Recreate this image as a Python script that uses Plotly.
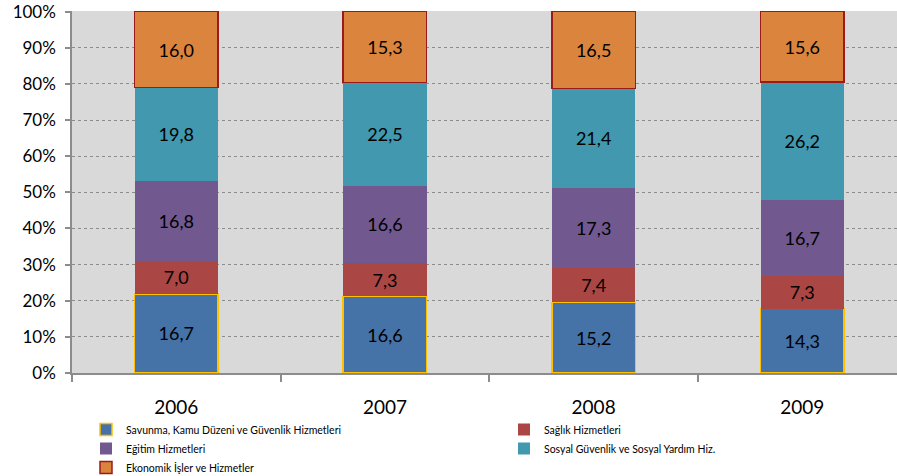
import plotly.graph_objects as go

years = ["2006", "2007", "2008", "2009"]
series_names = [
    "Savunma, Kamu Düzeni ve Güvenlik Hizmetleri",
    "Sağlık Hizmetleri",
    "Eğitim Hizmetleri",
    "Sosyal Güvenlik ve Sosyal Yardım Hiz.",
    "Ekonomik İşler ve Hizmetler",
]
savunma = [16.7, 16.6, 15.2, 14.3]
saglik = [7.0, 7.3, 7.4, 7.3]
egitim = [16.8, 16.6, 17.3, 16.7]
sosyal = [19.8, 22.5, 21.4, 26.2]
ekonomik = [16.0, 15.3, 16.5, 15.6]

series_values = [savunma, saglik, egitim, sosyal, ekonomik]
fill_colors = ["#4572A7", "#AA4643", "#71588F", "#4198AF", "#DB843D"]
edge_colors = ["#FFC000", None, None, None, "#9B1B1B"]
# two legend columns: left column and right column
legend_ids = ["legend", "legend2", "legend", "legend2", "legend"]

FONT = "Lato, sans-serif"

fig = go.Figure()
for name, vals, fc, ec, lg in zip(series_names, series_values, fill_colors,
                                  edge_colors, legend_ids):
    line = dict(color=ec, width=1.5) if ec else dict(width=0)
    fig.add_trace(go.Bar(
        x=years,
        y=vals,
        name=name,
        legend=lg,
        width=0.4,
        marker=dict(color=fc, line=line),
        text=[f"{v:.1f}".replace(".", ",") for v in vals],
        textposition="inside",
        insidetextanchor="middle",
        textangle=0,
        constraintext="none",
        textfont=dict(family=FONT, size=18, color="#000000"),
        hoverinfo="skip",
    ))

legend_style = dict(
    orientation="v",
    xref="container",
    yref="container",
    y=1 - 415 / 476,
    xanchor="left",
    yanchor="top",
    font=dict(size=10.5, color="#000000"),
    itemwidth=30,
    tracegroupgap=0,
    traceorder="normal",
    bgcolor="rgba(0,0,0,0)",
)

fig.update_layout(
    width=897,
    height=476,
    barmode="stack",
    barnorm="percent",
    paper_bgcolor="#FFFFFF",
    plot_bgcolor="#D9D9D9",
    margin=dict(l=72, r=0, t=11, b=103, autoexpand=False),
    font=dict(family=FONT, color="#000000"),
    legend=dict(x=86 / 897, **legend_style),
    legend2=dict(x=504 / 897, **legend_style),
    showlegend=True,
)

fig.update_xaxes(
    type="category",
    range=[-0.5, 3.454],
    tickson="boundaries",
    ticks="outside",
    ticklen=7,
    tickcolor="#8C8C8C",
    tickwidth=1.5,
    showline=True,
    linecolor="#8C8C8C",
    linewidth=1.5,
    showgrid=False,
    tickfont=dict(size=19),
    tickangle=0,
    ticklabelstandoff=16,
)

fig.update_yaxes(
    range=[0, 100.2],
    tickvals=list(range(0, 101, 10)),
    ticktext=[f"{v}%" for v in range(0, 101, 10)],
    ticks="outside",
    ticklen=5,
    tickcolor="#8C8C8C",
    tickwidth=1.5,
    showline=True,
    linecolor="#8C8C8C",
    linewidth=1.5,
    showgrid=True,
    gridcolor="#8C8C8C",
    griddash="dot",
    gridwidth=1,
    tickfont=dict(size=17),
    ticklabelstandoff=6,
    ticklabeloverflow="allow",
    zeroline=False,
)

fig.write_html("out.html")
